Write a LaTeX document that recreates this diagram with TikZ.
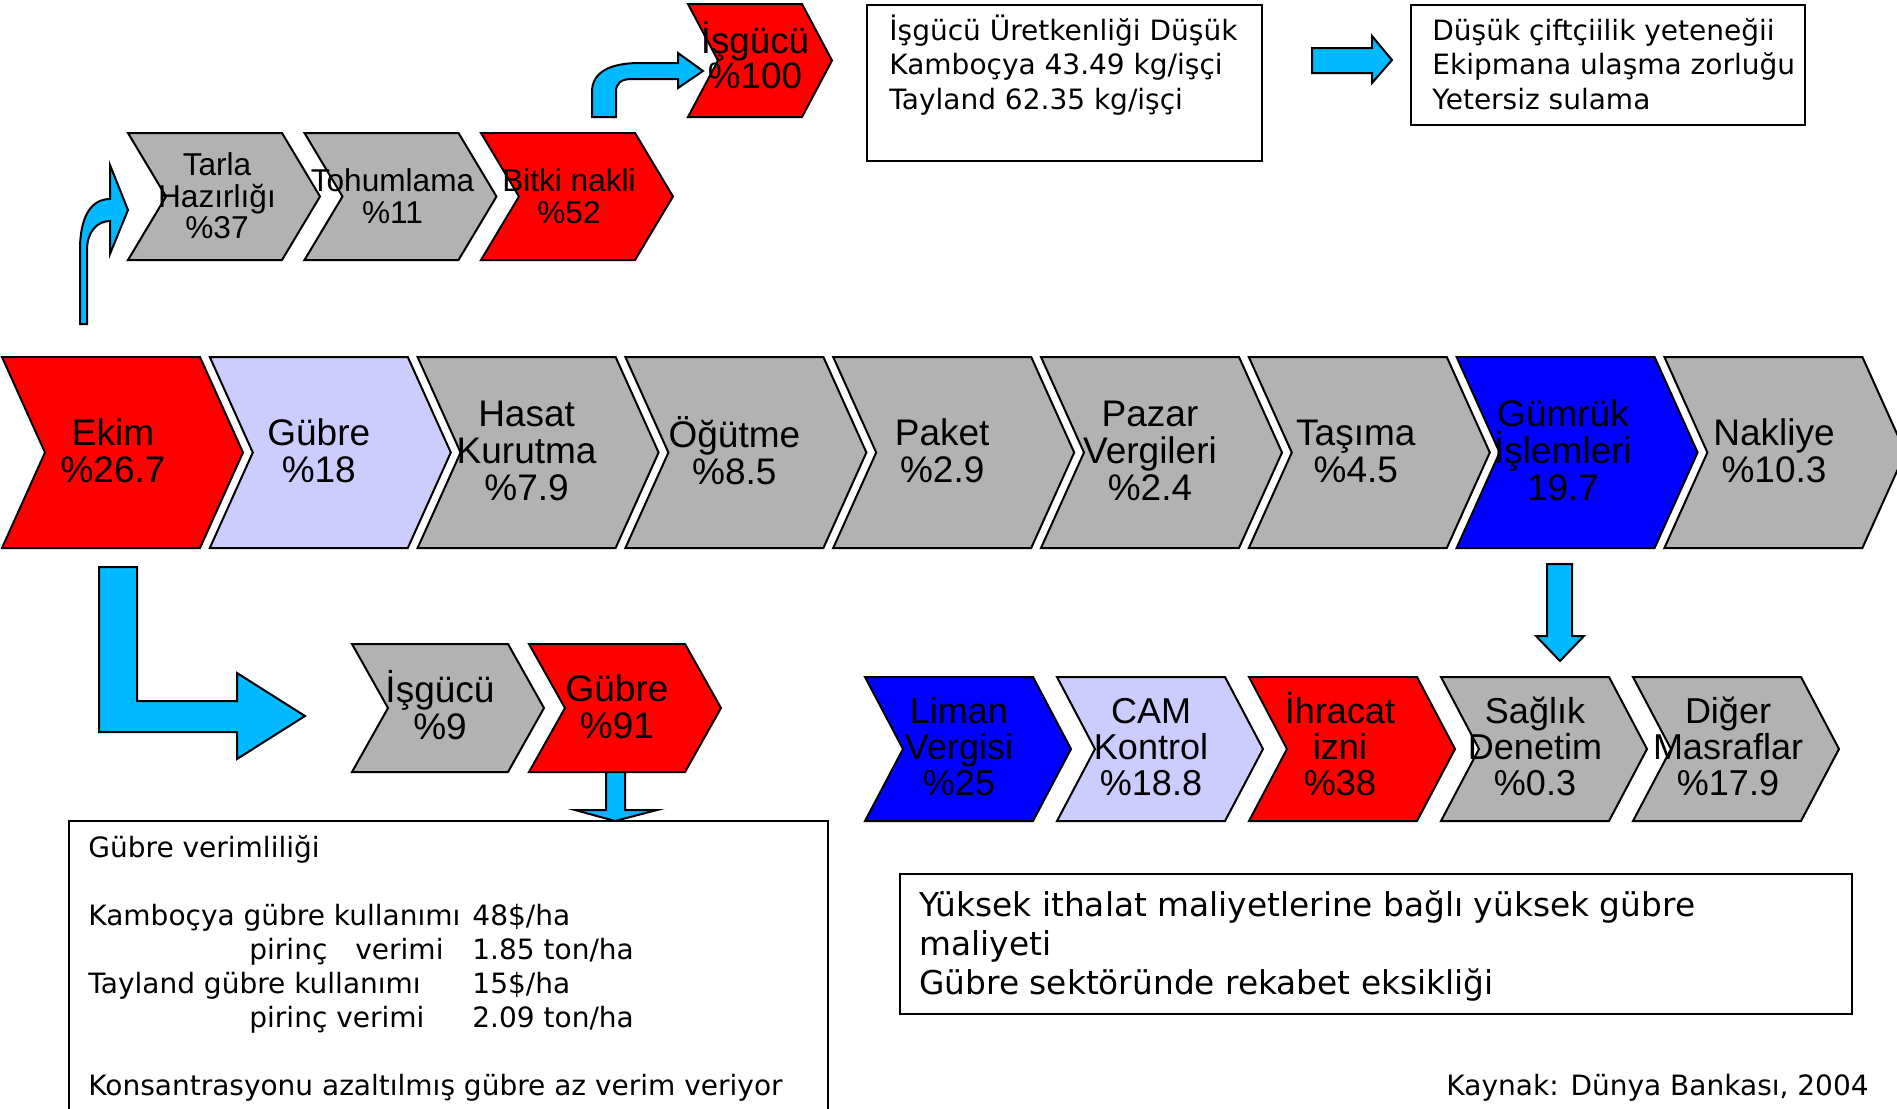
\documentclass[tikz,border=0pt]{standalone}
\usepackage{fontspec}
\newfontfamily\chevfont{Liberation Sans}
\newfontfamily\boxfont{DejaVu Sans}
\definecolor{stepred}{HTML}{FF0000}
\definecolor{stepgray}{HTML}{B2B2B2}
\definecolor{steplav}{HTML}{CCCCFF}
\definecolor{stepblue}{HTML}{0000FF}
\definecolor{arrowblue}{HTML}{00B9FF}

% chevron: fill, left x, top y, body width, point depth, height
\newcommand\chevpath[6]{%
  \filldraw[chevline,fill=#1] (#2,#3) -- ++(#4,0) -- ++(#5,#6/2)
    -- ++(-#5,#6/2) -- ++(-#4,0) -- ++(#5,-#6/2) -- cycle;}

\begin{document}
\begin{tikzpicture}[x=0.5pt,y=-0.5pt,
  chevline/.style={draw=black,line width=1pt,line join=miter},
  blockarrow/.style={fill=arrowblue,draw=black,line width=1pt,line join=miter},
  infobox/.style={draw=black,line width=1pt},
  maintxt/.style={font={\chevfont\fontsize{18.5}{18.5}\selectfont},align=center,inner sep=0pt},
  toptxt/.style={font={\chevfont\fontsize{15.8}{15.7}\selectfont},align=center,inner sep=0pt},
  lowtxt/.style={font={\chevfont\fontsize{18.5}{18.7}\selectfont},align=center,inner sep=0pt},
  costtxt/.style={font={\chevfont\fontsize{18}{18}\selectfont},align=center,inner sep=0pt},
  headtxt/.style={font={\chevfont\fontsize{18.4}{17.5}\selectfont},align=center,inner sep=0pt},
  % placed at the baseline of the last line
  notetxt/.style={font={\boxfont\fontsize{14}{17.25}\selectfont},align=left,inner sep=0pt,anchor=base west},
]
\useasboundingbox (0,0) rectangle (1897,1109);
\clip (0,0) rectangle (1897,1109);

% ---------- main value chain ----------
\chevpath{stepred}{2}{357}{198}{43}{191}
\chevpath{steplav}{209.8}{357}{198}{43}{191}
\chevpath{stepgray}{417.6}{357}{198}{43}{191}
\chevpath{stepgray}{625.4}{357}{198}{43}{191}
\chevpath{stepgray}{833.2}{357}{198}{43}{191}
\chevpath{stepgray}{1041}{357}{198}{43}{191}
\chevpath{stepgray}{1248.8}{357}{198}{43}{191}
\chevpath{stepblue}{1456.6}{357}{198}{43}{191}
\chevpath{stepgray}{1664.4}{357}{198}{43}{191}
\node[maintxt] (ekim)    at (113,451)    {Ekim\\\%26.7};
\node[maintxt] (gubre)   at (318.8,451)  {Gübre\\\%18};
\node[maintxt] (hasat)   at (526.6,451)  {Hasat\\Kurutma\\\%7.9};
\node[maintxt] (ogutme)  at (734.4,451)  {Öğütme\\\%8.5};
\node[maintxt] (paket)   at (942.2,451)  {Paket\\\%2.9};
\node[maintxt] (pazar)   at (1150,451)   {Pazar\\Vergileri\\\%2.4};
\node[maintxt] (tasima)  at (1355.8,451) {Taşıma\\\%4.5};
\node[maintxt] (gumruk)  at (1563,450)   {Gümrük\\İşlemleri\\19.7};
\node[maintxt] (nakliye) at (1774,451)   {Nakliye\\\%10.3};

% ---------- planting breakdown ----------
\chevpath{stepgray}{128}{133}{154}{38}{127}
\chevpath{stepgray}{304.5}{133}{154}{38}{127}
\chevpath{stepred}{481}{133}{154}{38}{127}
\node[toptxt] (tarla) at (217,196)   {Tarla\\Hazırlığı\\\%37};
\node[toptxt] (tohum) at (392.5,196) {Tohumlama\\\%11};
\node[toptxt] (bitki) at (569,196)   {Bitki nakli\\\%52};

\chevpath{stepred}{688}{4}{114}{30}{113}
\node[headtxt] (isgucutop) at (755,55) {İşgücü\\\%100};

% ---------- fertiliser breakdown ----------
\chevpath{stepgray}{352}{644}{156}{36}{128}
\chevpath{stepred}{529}{644}{156}{36}{128}
\node[lowtxt] (isgucu) at (440,705) {İşgücü\\\%9};
\node[lowtxt] (gubre2) at (617,707) {Gübre\\\%91};

% ---------- customs breakdown ----------
\chevpath{stepblue}{865}{677}{168}{38}{144}
\chevpath{steplav}{1057}{677}{168}{38}{144}
\chevpath{stepred}{1249}{677}{168}{38}{144}
\chevpath{stepgray}{1441}{677}{168}{38}{144}
\chevpath{stepgray}{1633}{677}{168}{38}{144}
\node[costtxt] (liman)   at (959,747)  {Liman\\Vergisi\\\%25};
\node[costtxt] (cam)     at (1151,747) {CAM\\Kontrol\\\%18.8};
\node[costtxt] (ihracat) at (1340,744) {İhracat\\izni\\\%38};
\node[costtxt] (saglik)  at (1535,746) {Sağlık\\Denetim\\\%0.3};
\node[costtxt] (diger)   at (1728,746) {Diğer\\Masraflar\\\%17.9};

% ---------- block arrows ----------
% up and round into the planting steps
\filldraw[blockarrow] (80,324) -- (80,250) .. controls (80,215) and (92,199) .. (110,199)
  -- (110,165) -- (128,210) -- (110,254) -- (110,221)
  .. controls (97,221) and (87,232) .. (87,250) -- (87,324) -- cycle;
% up and round into the labour share
\filldraw[blockarrow] (592,117) -- (592,92) .. controls (592,72) and (610,63) .. (640,63)
  -- (678,63) -- (678,53) -- (703,71) -- (678,88) -- (678,79) -- (632,79)
  .. controls (621,79) and (616,83) .. (616,92) -- (616,117) -- cycle;
% bent arrow down to the fertiliser breakdown
\filldraw[blockarrow] (99,567) -- (137,567) -- (137,701) -- (237,701) -- (237,673)
  -- (305,716) -- (237,759) -- (237,732) -- (99,732) -- cycle;
% fertiliser share down into its note
\filldraw[blockarrow] (606,772) -- (625,772) -- (625,810) -- (657,810) -- (615,821)
  -- (575,810) -- (606,810) -- cycle;
% customs down into its breakdown
\filldraw[blockarrow] (1547,564) -- (1572,564) -- (1572,636) -- (1584,636) -- (1560,661)
  -- (1536,636) -- (1547,636) -- cycle;
% between the two labour notes
\filldraw[blockarrow] (1312,48) -- (1372,48) -- (1372,36) -- (1392,60) -- (1372,83)
  -- (1372,73) -- (1312,73) -- cycle;

% ---------- notes ----------
\draw[infobox] (867,5) rectangle (1262,161);
\draw[infobox] (1411,5) rectangle (1805,125);
\draw[infobox] (69,821) rectangle (828,1130);
\draw[infobox] (900,874) rectangle (1852,1014);

\node[notetxt] (labnote) at (889,109)
  {İşgücü Üretkenliği Düşük\\Kamboçya 43.49 kg/işçi\\Tayland 62.35 kg/işçi};
\node[notetxt] (skillnote) at (1432,109)
  {Düşük çiftçiilik yeteneğii\\Ekipmana ulaşma zorluğu\\Yetersiz sulama};
\node[notetxt,font={\boxfont\fontsize{14}{16.95}\selectfont}] (fertnote) at (88,1095)
  {Gübre verimliliği\\[16.95pt]
   \makebox[192pt][l]{Kamboçya gübre kullanımı}48\$/ha\\
   \hspace*{80.5pt}\makebox[53pt][l]{pirinç}\makebox[58.5pt][l]{verimi}1.85 ton/ha\\
   \makebox[192pt][l]{Tayland gübre kullanımı}15\$/ha\\
   \hspace*{80.5pt}\makebox[111.5pt][l]{pirinç verimi}2.09 ton/ha\\[16.95pt]
   Konsantrasyonu azaltılmış gübre az verim veriyor};
\node[notetxt,font={\boxfont\fontsize{16.4}{19.35}\selectfont}] (importnote) at (919,994)
  {Yüksek ithalat maliyetlerine bağlı yüksek gübre\\maliyeti\\Gübre sektöründe rekabet eksikliği};
\node[notetxt,anchor=base east] (source) at (1869,1095) {Kaynak: Dünya Bankası, 2004};
\end{tikzpicture}
\end{document}
